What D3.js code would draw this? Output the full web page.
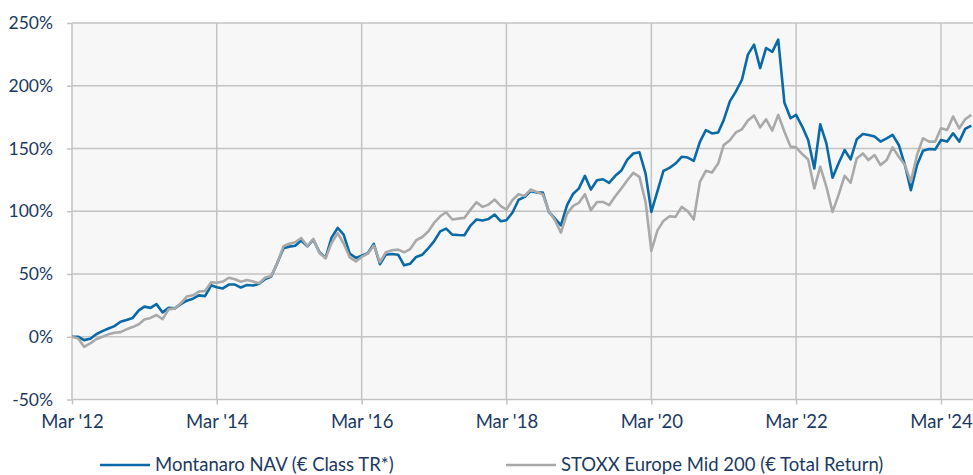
<!DOCTYPE html>
<html>
<head>
<meta charset="utf-8">
<script src="https://cdn.jsdelivr.net/npm/d3@7"></script>
<style>
  html, body { margin: 0; padding: 0; background: #ffffff; }
  svg { display: block; }
  text { font-family: Lato, "Open Sans", sans-serif; fill: #1b3a62; }
</style>
</head>
<body>
<svg id="chart" width="973" height="475"></svg>
<script>
// ---- data (monthly, Mar 2012 .. Aug 2024), cumulative return in % ----
const startYear = 2012, startMonth = 2; // March (0-based)
const seriesNames = ["Montanaro NAV (€ Class TR*)", "STOXX Europe Mid 200 (€ Total Return)"];
const montanaro = [
  0, 0, -2.7, -1.6, 2, 4.5, 6.6, 8.5, 12, 13.3,
  15, 21, 24, 23, 26, 19.4, 23, 22.6, 26, 28.7,
  30.3, 33, 32.4, 41, 39.5, 38.5, 41.6, 41.6, 39.2, 41.3,
  40.8, 42.3, 46, 48, 59, 70.6, 71.8, 72.5, 76.7, 72,
  77.4, 67.4, 62.8, 79, 86.7, 81.4, 66.2, 62.8, 64.6, 66.5,
  74, 57.8, 65.4, 66, 65.4, 56.9, 58.2, 63.6, 65.4, 70.7,
  76, 84, 86.2, 81.4, 81.1, 80.9, 88.6, 93.4, 92.6, 93.9,
  97.3, 92, 92.8, 99, 109, 111.4, 116, 114.9, 114.9, 99.5,
  94.1, 88.8, 104.8, 114, 118, 128.2, 117.3, 124.7, 125.5, 122.6,
  128.2, 132.2, 141.2, 146, 147, 130, 99.5, 116, 132.2, 134.6,
  138, 143.4, 142.8, 140.2, 155.3, 164.6, 162, 162.8, 172.6, 187.6,
  195.3, 204.8, 224.8, 232.8, 214.1, 230.1, 227, 236.8, 186.7, 174.1,
  176.8, 167.5, 156.8, 134.1, 169.3, 154.1, 126.7, 138.1, 148.8, 141.3,
  157.3, 161.6, 160.8, 159.5, 155.5, 158.1, 160.8, 152.8, 136.8, 116.8,
  136.8, 148.3, 149.6, 149.3, 156.8, 155.5, 162.1, 155.5, 165.6, 168.3
];
const stoxx = [
  0, -1.3, -8, -5.3, -2, 0, 1.9, 3.2, 3.7, 5.9,
  7.7, 10, 13.8, 15, 17.3, 14, 21.8, 22.6, 26.6, 32,
  33, 36, 36.4, 43.4, 43, 44, 47, 45.8, 43.8, 45.2,
  44, 42.6, 47.2, 48.5, 59, 72.2, 74.1, 75.3, 78.7, 72.3,
  78, 66.8, 62.5, 74.7, 82.5, 74.3, 63.2, 60, 63.6, 66.2,
  72.7, 59.4, 67.3, 68.9, 69.4, 67.3, 69.9, 76.9, 79.5, 84,
  90.7, 96, 99.2, 93.4, 94.1, 94.7, 101.3, 107.2, 103.5, 105.3,
  109.3, 104, 101.3, 109, 113.5, 112.2, 117.3, 115.4, 113.3, 100,
  92.8, 83, 98.1, 104.3, 106.6, 113.6, 100.8, 107.4, 107.4, 104.8,
  112, 118, 124.7, 130.6, 127.4, 107.4, 68.4, 84.8, 92.3, 96,
  95.5, 103.5, 100, 93.4, 123.4, 132.2, 130.9, 138, 152.7, 156.5,
  162.8, 165.3, 172.3, 176.3, 166.9, 173.3, 164.3, 176.8, 163.5, 151.5,
  150.9, 145.6, 141.3, 118.1, 135.5, 119.5, 99.5, 112.8, 128.3, 122.7,
  142.1, 146.1, 140.8, 144.8, 136.8, 140.8, 150.9, 143.5, 136.8, 123.5,
  144.8, 158.1, 155.5, 155.5, 166.1, 164.8, 175.5, 166.1, 173.3, 176.8
];
const months = d3.range(montanaro.length).map(i => new Date(startYear, startMonth + i, 1));
const xTickLabels = ["Mar '12", "Mar '14", "Mar '16", "Mar '18", "Mar '20", "Mar '22", "Mar '24"];
const xTickDates = [2012, 2014, 2016, 2018, 2020, 2022, 2024].map(y => new Date(y, 2, 1));
const yTicks = [-50, 0, 50, 100, 150, 200, 250];
const yTickLabels = ["-50%", "0%", "50%", "100%", "150%", "200%", "250%"];

// ---- layout ----
const svg = d3.select("#chart");
const W = 973, H = 475;
const m = { left: 72, right: 0, top: 23, bottom: 75.5 };
const plotW = W - m.left - m.right, plotH = H - m.top - m.bottom;
const textColor = "#1b3a62";

const x = d3.scaleTime()
  .domain([xTickDates[0], xTickDates[xTickDates.length - 1]])
  .range([m.left, 941]);
const y = d3.scaleLinear().domain([-50, 250]).range([m.top + plotH, m.top]);

const gridColor = "#c3c3c3";

// plot background
svg.append("rect")
  .attr("x", m.left).attr("y", m.top)
  .attr("width", plotW).attr("height", plotH)
  .attr("fill", "#f7f7f7");

// horizontal gridlines + y axis labels
const yAxis = d3.axisLeft(y).tickValues(yTicks).tickSize(5).tickPadding(14)
  .tickFormat((d, i) => yTickLabels[i]);
const gy = svg.append("g").attr("transform", `translate(${m.left},0)`).call(yAxis);
gy.select(".domain").remove();
gy.selectAll(".tick line").attr("stroke", gridColor).attr("stroke-width", 1.5);
gy.selectAll(".tick text").attr("font-size", 17.5).attr("fill", textColor)
  .style("font-family", "Lato, 'Open Sans', sans-serif");
svg.append("g").selectAll("line").data(yTicks).join("line")
  .attr("x1", m.left).attr("x2", W)
  .attr("y1", d => y(d)).attr("y2", d => y(d))
  .attr("stroke", gridColor).attr("stroke-width", 1.5);

// vertical gridlines + x axis labels
const xAxis = d3.axisBottom(x).tickValues(xTickDates).tickSize(5).tickPadding(10)
  .tickFormat((d, i) => xTickLabels[i]);
const gx = svg.append("g").attr("transform", `translate(0,${m.top + plotH})`).call(xAxis);
gx.select(".domain").remove();
gx.selectAll(".tick line").attr("stroke", gridColor).attr("stroke-width", 1.5);
gx.selectAll(".tick text").attr("font-size", 18.5).attr("fill", textColor)
  .style("font-family", "Lato, 'Open Sans', sans-serif");
svg.append("g").selectAll("line").data(xTickDates).join("line")
  .attr("x1", d => x(d)).attr("x2", d => x(d))
  .attr("y1", m.top).attr("y2", m.top + plotH)
  .attr("stroke", gridColor).attr("stroke-width", 1.5);

// lines
const line = d3.line().x((d, i) => x(months[i])).y(d => y(d));
const colors = ["#0a6aa8", "#a9a9a9"];
[montanaro, stoxx].forEach((s, k) => {
  svg.append("path").datum(s)
    .attr("d", line)
    .attr("fill", "none")
    .attr("stroke", colors[k])
    .attr("stroke-width", 2.6)
    .attr("stroke-linejoin", "round");
});

// legend
const legendItems = [
  { name: seriesNames[0], color: colors[0], x: 100 },
  { name: seriesNames[1], color: colors[1], x: 506 }
];
const lg = svg.append("g");
legendItems.forEach(it => {
  lg.append("line").attr("x1", it.x).attr("x2", it.x + 50)
    .attr("y1", 465).attr("y2", 465)
    .attr("stroke", it.color).attr("stroke-width", 2.6);
  lg.append("text").attr("x", it.x + 55).attr("y", 465).attr("dy", "0.35em")
    .attr("font-size", 18.5).attr("fill", textColor).text(it.name);
});
</script>
</body>
</html>
